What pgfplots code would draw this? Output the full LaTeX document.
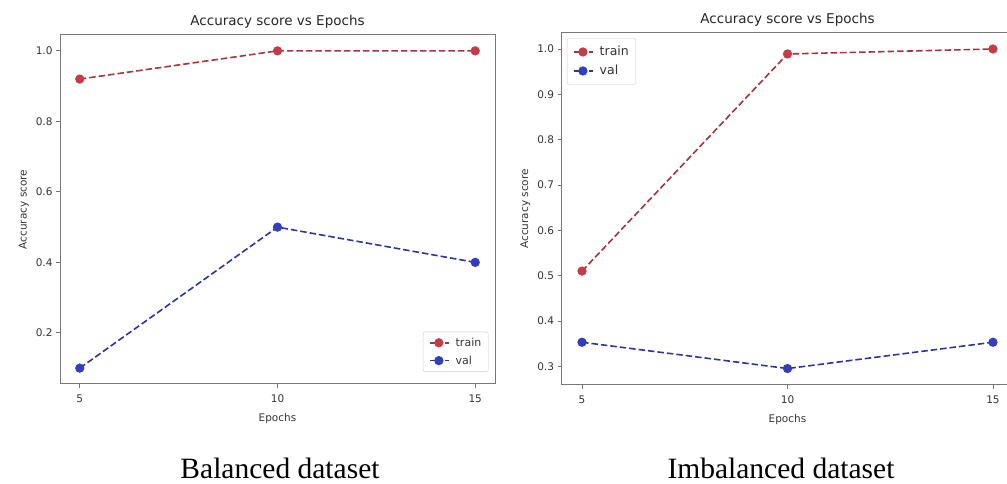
\documentclass[border=0pt]{standalone}
\usepackage{fontspec}
\setmainfont{DejaVu Sans}
\newfontfamily\capfont{Liberation Serif}
\usepackage{pgfplots}
\pgfplotsset{compat=1.18}
\definecolor{trainc}{RGB}{196,60,72}
\definecolor{valc}{RGB}{52,62,186}
\definecolor{framec}{RGB}{120,120,120}
\pgfplotsset{
  accstyle/.style={
    scale only axis,
    xmin=4.5, xmax=15.5,
    xtick={5,10,15},
    axis line style={framec, line width=1pt},
    tick style={framec, line width=0.8pt},
    tick align=outside,
    major tick length=4pt,
    xtick pos=bottom, ytick pos=left,
    ticklabel style={font=\fontsize{10.5}{12}\selectfont, text=black!80},
    xticklabel style={yshift=-3pt},
    /pgf/number format/assume math mode=true,
    yticklabel style={/pgf/number format/fixed, /pgf/number format/fixed zerofill, /pgf/number format/precision=1},
    title style={font=\fontsize{13.5}{16}\selectfont, text=black!85, yshift=-3pt},
    label style={font=\fontsize{10.5}{12}\selectfont, text=black!80},
    xlabel style={yshift=-4pt},
    xlabel={Epochs},
    ylabel={Accuracy score},
    title={Accuracy score vs Epochs},
    legend style={draw=black!20, rounded corners=2pt, text=black!80, row sep=4pt, column sep=4pt, inner xsep=5pt, inner ysep=4pt},
    legend cell align=left,
    legend image code/.code={\draw[mark repeat=2, mark phase=2, #1, dash pattern=on 5pt off 2.5pt, dash phase=-1pt] plot coordinates {(0pt,0pt) (10pt,0pt) (20pt,0pt)};},
  },
  trainline/.style={trainc!85!black, line width=1.6pt, dash pattern=on 6.5pt off 3pt, mark=*, mark options={solid, fill=trainc, draw=trainc, scale=1.9}},
  valline/.style={valc!85!black, line width=1.6pt, dash pattern=on 6.5pt off 3pt, mark=*, mark options={solid, fill=valc, draw=valc, scale=1.9}},
}
\begin{document}
\begin{tikzpicture}[x=1pt,y=1pt]
\useasboundingbox (0,0) rectangle (1007,484);
\begin{axis}[accstyle,
  at={(60pt,100pt)}, anchor=south west,
  width=435pt, height=349pt,
  ymin=0.055, ymax=1.045,
  ytick={0.2,0.4,0.6,0.8,1.0},
  legend style={at={(0.985,0.035)}, anchor=south east, font=\fontsize{11}{13}\selectfont},
]
\addplot[trainline] coordinates {(5,0.92) (10,1.0) (15,1.0)};
\addlegendentry{train}
\addplot[valline] coordinates {(5,0.10) (10,0.50) (15,0.40)};
\addlegendentry{val}
\end{axis}
\begin{axis}[accstyle,
  at={(561.5pt,99pt)}, anchor=south west,
  width=452pt, height=352pt,
  ymin=0.2587, ymax=1.0353,
  ytick={0.3,0.4,0.5,0.6,0.7,0.8,0.9,1.0},
  legend style={at={(0.012,0.985)}, anchor=north west, font=\fontsize{12.5}{14}\selectfont, inner ysep=6pt},
]
\addplot[trainline] coordinates {(5,0.51) (10,0.989) (15,1.0)};
\addlegendentry{train}
\addplot[valline] coordinates {(5,0.353) (10,0.295) (15,0.353)};
\addlegendentry{val}
\end{axis}
\node[font=\capfont\fontsize{29.5}{34}\selectfont, anchor=base] at (280,5) {Balanced dataset};
\node[font=\capfont\fontsize{29.5}{34}\selectfont, anchor=base] at (781,5) {Imbalanced dataset};
\end{tikzpicture}
\end{document}
